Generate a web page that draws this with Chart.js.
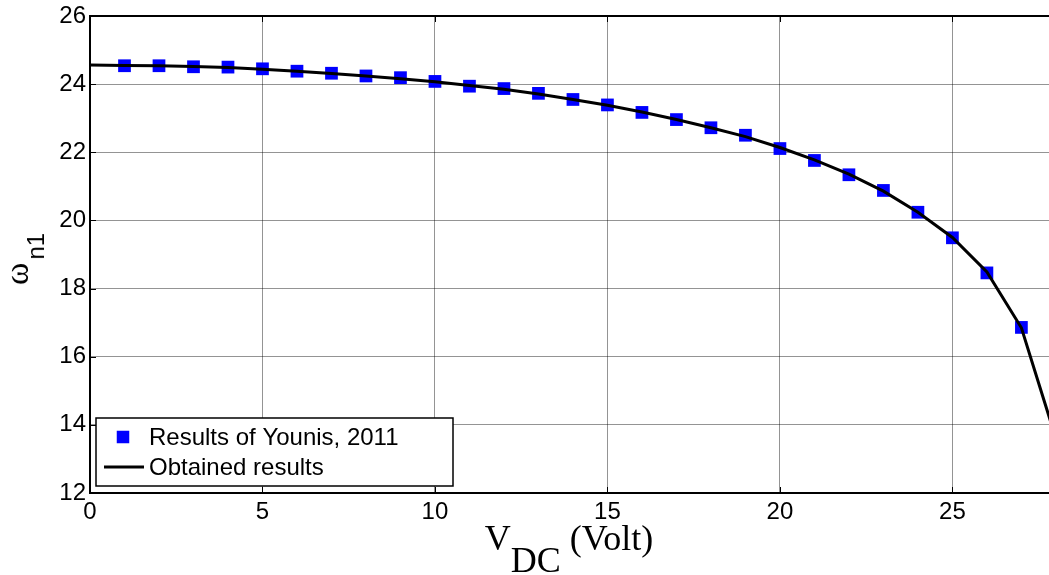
<!DOCTYPE html>
<html>
<head>
<meta charset="utf-8">
<script src="https://cdn.jsdelivr.net/npm/chart.js@4.4.1/dist/chart.umd.min.js"></script>
<style>
  html, body { margin: 0; padding: 0; background: #fff; overflow: hidden; }
  #wrap { position: relative; width: 1049px; height: 575px; }
  #c { position: absolute; left: 0; top: 0; }
  .xtitle {
    position: absolute; left: 569px; top: 520px; transform: translateX(-50%);
    font: 36px/36px "Liberation Serif", "Times New Roman", serif;
    white-space: nowrap; color: #000;
  }
  .xtitle sub { font-size: 36px; vertical-align: baseline; position: relative; top: 22px; }
  .ytitle {
    position: absolute; left: 17px; top: 259px;
    transform: translate(-50%, -50%) rotate(-90deg);
    font: 34px/40px "Liberation Serif", "Times New Roman", serif;
    white-space: nowrap; color: #000;
  }
  .ytitle sub {
    font: 24px/24px "Liberation Sans", Arial, sans-serif;
    vertical-align: baseline; position: relative; top: 16px; margin-left: 3px;
  }
</style>
</head>
<body>
<div id="wrap">
  <canvas id="c" width="1049" height="575"></canvas>
  <div class="xtitle">V<sub>DC</sub> (Volt)</div>
  <div class="ytitle">ω<sub>n1</sub></div>
</div>
<script>
// First natural frequency versus DC voltage
const vdcPoints = [1, 2, 3, 4, 5, 6, 7, 8, 9, 10, 11, 12, 13, 14, 15, 16, 17, 18, 19, 20, 21, 22, 23, 24, 25, 26, 27];
const younisOmega = [24.54, 24.54, 24.51, 24.50, 24.45, 24.38, 24.32, 24.24, 24.19, 24.08, 23.94, 23.87, 23.73, 23.55,
                     23.39, 23.17, 22.96, 22.72, 22.50, 22.11, 21.76, 21.34, 20.88, 20.24, 19.49, 18.46, 16.86];

const vdcLine = [0, 1, 2, 3, 4, 5, 6, 7, 8, 9, 10, 11, 12, 13, 14, 15, 16, 17, 18, 19, 20, 21, 22, 23, 24, 25, 26, 27, 28];
const obtainedOmega = [24.56, 24.55, 24.54, 24.52, 24.49, 24.44, 24.38, 24.31, 24.24, 24.16, 24.07, 23.96, 23.85, 23.71,
                       23.55, 23.38, 23.18, 22.96, 22.72, 22.46, 22.14, 21.78, 21.36, 20.86, 20.24, 19.50, 18.49, 16.85, 13.6];

const xTickValues = [0, 5, 10, 15, 20, 25];
const yTickValues = [12, 14, 16, 18, 20, 22, 24, 26];
const legendLabels = ['Results of Younis, 2011', 'Obtained results'];

const SANS = '"Liberation Sans", Arial, sans-serif';
const GRID = 'rgba(0,0,0,0.42)';

// Plot box position on the canvas
const PLOT = { left: 90, top: 16, right: 1049, bottom: 493 };

// Pin the chart area to the plot box
const pinArea = {
  id: 'pinArea',
  afterLayout(chart) {
    const a = chart.chartArea;
    Object.assign(a, PLOT, { width: PLOT.right - PLOT.left, height: PLOT.bottom - PLOT.top });
    const { x, y } = chart.scales;
    x.left = PLOT.left; x.right = PLOT.right; x.width = PLOT.right - PLOT.left;
    x.top = PLOT.bottom; x.bottom = chart.height; x.height = chart.height - PLOT.bottom;
    y.top = PLOT.top; y.bottom = PLOT.bottom; y.height = PLOT.bottom - PLOT.top;
    y.left = 0; y.right = PLOT.left; y.width = PLOT.left;
    x.paddingLeft = x.paddingRight = 0;
    y.paddingTop = y.paddingBottom = 0;
    x.configure(); y.configure();
  }
};

// Inward tick marks on the box edges
const boxTicks = {
  id: 'boxTicks',
  afterDatasetsDraw(chart) {
    const { ctx, chartArea: a, scales } = chart;
    ctx.save();
    ctx.strokeStyle = '#000';
    ctx.lineWidth = 1;
    const len = 6;
    scales.x.ticks.forEach(t => {
      const px = Math.round(scales.x.getPixelForValue(t.value)) + 0.5;
      ctx.beginPath();
      ctx.moveTo(px, a.bottom); ctx.lineTo(px, a.bottom - len);
      ctx.moveTo(px, a.top); ctx.lineTo(px, a.top + len);
      ctx.stroke();
    });
    scales.y.ticks.forEach(t => {
      const py = Math.round(scales.y.getPixelForValue(t.value)) + 0.5;
      ctx.beginPath();
      ctx.moveTo(a.left, py); ctx.lineTo(a.left + len, py);
      ctx.stroke();
    });
    ctx.restore();
  }
};

// Boxed legend in the lower-left corner of the plot
const boxLegend = {
  id: 'boxLegend',
  afterDraw(chart) {
    const { ctx, chartArea: a } = chart;
    const pts = chart.data.datasets[1];
    const line = chart.data.datasets[0];
    const L = a.left + 6, T = a.bottom - 75, W = 357, H = 68;
    ctx.save();
    ctx.fillStyle = '#fff';
    ctx.fillRect(L, T, W, H);
    ctx.strokeStyle = '#000';
    ctx.lineWidth = 1.5;
    ctx.strokeRect(L, T, W, H);

    const row1 = T + 19, row2 = T + 49;
    const side = 12.5;
    ctx.fillStyle = pts.backgroundColor;
    ctx.fillRect(L + 27 - side / 2, row1 - side / 2, side, side);

    ctx.strokeStyle = line.borderColor;
    ctx.lineWidth = line.borderWidth;
    ctx.beginPath();
    ctx.moveTo(L + 8, row2); ctx.lineTo(L + 48, row2);
    ctx.stroke();

    ctx.fillStyle = '#000';
    ctx.font = '24px ' + SANS;
    ctx.textBaseline = 'middle';
    ctx.textAlign = 'left';
    ctx.fillText(legendLabels[0], L + 53, row1 + 1);
    ctx.fillText(legendLabels[1], L + 53, row2 + 1);
    ctx.restore();
  }
};

new Chart(document.getElementById('c'), {
  type: 'scatter',
  data: {
    datasets: [
      {
        label: legendLabels[1],
        data: vdcLine.map((v, i) => ({ x: v, y: obtainedOmega[i] })),
        showLine: true,
        borderColor: '#000',
        borderWidth: 3,
        pointRadius: 0,
        tension: 0,
        order: 0
      },
      {
        label: legendLabels[0],
        data: vdcPoints.map((v, i) => ({ x: v, y: younisOmega[i] })),
        showLine: false,
        pointStyle: 'rect',
        pointRadius: 9,
        pointBorderWidth: 0,
        backgroundColor: '#0000ff',
        borderColor: '#0000ff',
        order: 1
      }
    ]
  },
  options: {
    responsive: false,
    animation: false,
    layout: { padding: { left: 0, top: 16, right: 0, bottom: 0 } },
    plugins: { legend: { display: false }, tooltip: { enabled: false } },
    scales: {
      x: {
        type: 'linear',
        min: 0,
        max: 27.8,
        afterBuildTicks: s => { s.ticks = xTickValues.map(v => ({ value: v })); },
        afterFit: s => { s.height = 82; },
        ticks: {
          color: '#000',
          font: { family: SANS, size: 24 },
          padding: 5,
          maxRotation: 0,
          autoSkip: false
        },
        grid: { color: GRID, lineWidth: 1, drawTicks: false },
        border: { color: '#000', width: 2 }
      },
      y: {
        min: 12,
        max: 26,
        afterBuildTicks: s => { s.ticks = yTickValues.map(v => ({ value: v })); },
        afterFit: s => { s.width = 90; },
        ticks: {
          color: '#000',
          font: { family: SANS, size: 24 },
          padding: 4,
          autoSkip: false
        },
        grid: {
          color: c => (c.tick && c.tick.value === 26 ? '#000' : GRID),
          lineWidth: c => (c.tick && c.tick.value === 26 ? 2 : 1),
          drawTicks: false
        },
        border: { color: '#000', width: 2 }
      }
    }
  },
  plugins: [pinArea, boxTicks, boxLegend]
});
</script>
</body>
</html>
